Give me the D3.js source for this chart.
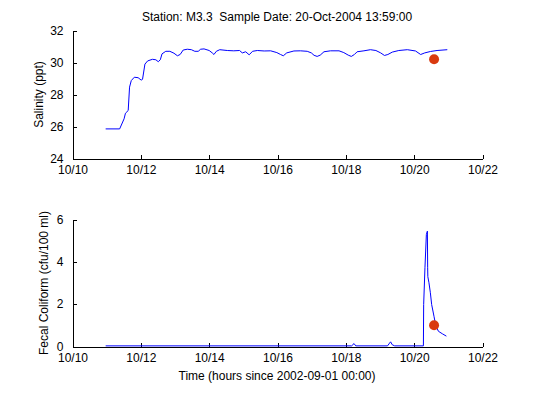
<!DOCTYPE html>
<html>
<head>
<meta charset="utf-8">
<script src="https://cdn.jsdelivr.net/npm/d3@7"></script>
<style>
  body { margin: 0; background: #fff; }
  svg { display: block; font-family: "Liberation Sans", Arial, sans-serif; }
  .axis path, .axis line { stroke: #000; shape-rendering: crispEdges; }
  .axis text { fill: #000; font-size: 12px; }
</style>
</head>
<body>
<div class="demo"></div>
<script>
const w = 533, h = 399;

// time is day of October 2004 (fractional)
const dayTicks = [10, 12, 14, 16, 18, 20, 22];
const salTicks = [24, 26, 28, 30, 32];
const fecTicks = [0, 2, 4, 6];

const salDays = [10.97, 11.38, 11.51, 11.55, 11.63, 11.67, 11.72, 11.81, 11.92, 12.01, 12.05,
  12.12, 12.20, 12.34, 12.44, 12.51, 12.57, 12.62, 12.73, 12.85, 12.97, 13.07, 13.15, 13.24,
  13.36, 13.48, 13.58, 13.68, 13.75, 13.85, 14.00, 14.09, 14.14, 14.21, 14.31, 14.53, 14.72,
  14.89, 14.97, 15.07, 15.17, 15.27, 15.41, 15.61, 15.80, 15.98, 16.09, 16.17, 16.27, 16.48,
  16.67, 16.87, 16.99, 17.07, 17.16, 17.25, 17.36, 17.55, 17.80, 17.94, 18.07, 18.16, 18.25,
  18.33, 18.53, 18.72, 18.88, 19.02, 19.13, 19.23, 19.36, 19.55, 19.80, 20.04, 20.19, 20.31,
  20.48, 20.67, 20.97];
const salValues = [25.85, 25.85, 26.48, 26.83, 27.0, 28.46, 28.87, 29.08, 29.05, 28.9, 28.95,
  29.9, 30.1, 30.2, 30.17, 30.05, 30.17, 30.54, 30.7, 30.7, 30.58, 30.42, 30.5, 30.78,
  30.83, 30.8, 30.7, 30.7, 30.83, 30.85, 30.75, 30.6, 30.5, 30.7, 30.8, 30.75, 30.73,
  30.75, 30.6, 30.67, 30.48, 30.7, 30.75, 30.72, 30.73, 30.62, 30.5, 30.42, 30.6, 30.72,
  30.73, 30.7, 30.6, 30.45, 30.38, 30.46, 30.67, 30.73, 30.73, 30.62, 30.46, 30.38, 30.5,
  30.67, 30.73, 30.8, 30.75, 30.6, 30.44, 30.5, 30.65, 30.75, 30.8, 30.72, 30.5, 30.6,
  30.69, 30.75, 30.8];

const fecDays = [10.97, 18.17, 18.24, 18.29, 19.22, 19.28, 19.31, 19.36, 19.43, 20.27, 20.278,
  20.316, 20.357, 20.387, 20.395, 20.40, 20.433, 20.474, 20.512, 20.58, 20.63, 20.709, 20.826, 20.943];
const fecValues = [0.03, 0.03, 0.14, 0.03, 0.03, 0.16, 0.22, 0.08, 0.03, 0.03, 1.98,
  3.72, 5.29, 5.45, 3.72, 3.3, 3.01, 2.54, 1.98, 1.43, 1.0, 0.72, 0.6, 0.49];

const sampleDay = 20 + 13 / 24 + 59 / 1440;
const sampleSal = 30.2;
const sampleFec = 1.0;

const titleText = 'Station: M3.3  Sample Date: 20-Oct-2004 13:59:00';

let svg = d3.select('.demo').append('svg').attr('width', w).attr('height', h);

let xScale = d3.scaleLinear().domain([10, 22]).range([72.5, 482.5]);
let ySal = d3.scaleLinear().domain([24, 32]).range([158.5, 30.5]);
let yFec = d3.scaleLinear().domain([0, 6]).range([346.5, 219.5]);

function drawPanel(yScale, ticks, days, values, dotX, dotY, ylabel, ylabelX) {
  let g = svg.append('g');
  let y0 = yScale.range()[0];

  let xAxis = d3.axisBottom(xScale).tickValues(dayTicks)
    .tickFormat(d => '10/' + d).tickSizeInner(-4).tickSizeOuter(0).tickPadding(8);
  let yAxis = d3.axisLeft(yScale).tickValues(ticks)
    .tickFormat(d3.format('d')).tickSizeInner(-4).tickSizeOuter(0).tickPadding(9);

  g.append('g').attr('class', 'axis')
    .attr('transform', 'translate(0,' + y0 + ')')
    .call(xAxis)
    .call(a => a.selectAll('text').attr('dy', '0.6em'));
  g.append('g').attr('class', 'axis')
    .attr('transform', 'translate(' + xScale.range()[0] + ',0)')
    .call(yAxis)
    .call(a => a.selectAll('text').attr('dy', '0.3em'));
  g.selectAll('.axis .domain').attr('fill', 'none');

  let line = d3.line().x((d, i) => xScale(days[i])).y(d => yScale(d));
  g.append('path').datum(values)
    .attr('d', line)
    .attr('fill', 'none')
    .attr('stroke', '#0000ff')
    .attr('stroke-width', 1);

  g.append('circle')
    .attr('cx', xScale(dotX))
    .attr('cy', yScale(dotY))
    .attr('r', 5)
    .attr('fill', '#d93a10');

  let yMid = (yScale.range()[0] + yScale.range()[1]) / 2;
  g.append('text')
    .attr('transform', 'translate(' + ylabelX + ',' + yMid + ') rotate(-90)')
    .attr('text-anchor', 'middle')
    .attr('font-size', '12px')
    .text(ylabel);
}

drawPanel(ySal, salTicks, salDays, salValues, sampleDay, sampleSal, 'Salinity (ppt)', 43);
drawPanel(yFec, fecTicks, fecDays, fecValues, sampleDay, sampleFec, 'Fecal Coliform (cfu/100 ml)', 48);

svg.append('text')
  .attr('x', 277).attr('y', 21)
  .attr('text-anchor', 'middle')
  .attr('font-size', '12px')
  .style('white-space', 'pre')
  .text(titleText);

svg.append('text')
  .attr('x', 277).attr('y', 380)
  .attr('text-anchor', 'middle')
  .attr('font-size', '12px')
  .text('Time (hours since 2002-09-01 00:00)');
</script>
</body>
</html>
